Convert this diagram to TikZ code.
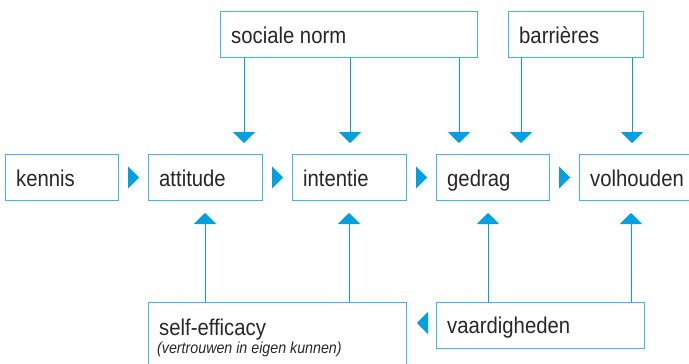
\documentclass[tikz,border=0pt]{standalone}
\usepackage{fontspec}
\setmainfont{Liberation Sans}[FakeStretch=0.89]
\usetikzlibrary{arrows.meta,calc}
\definecolor{arrc}{RGB}{0,160,225}
\definecolor{boxc}{RGB}{60,182,236}
\definecolor{txtc}{RGB}{40,38,38}
\begin{document}
\begin{tikzpicture}[x=1pt,y=-1pt,
  box/.style={draw=boxc,line width=1pt,rectangle,inner sep=0pt,anchor=north west},
  lbl/.style={anchor=base west,inner sep=0pt,text=txtc,font=\fontsize{22.8}{26}\selectfont},
  sub/.style={anchor=base west,inner sep=0pt,text=txtc,font=\fontsize{16}{19}\selectfont\itshape},
  arr/.style={draw=arrc,line width=1pt,-{Triangle[length=11pt,width=22pt]}},
  tip/.style={draw=arrc,line width=1pt,-{Triangle[length=11pt,width=22pt]},shorten <=10pt,shorten >=9pt}]
\useasboundingbox (0,0) rectangle (689,364);
% boxes
\node[box,minimum width=257pt,minimum height=46pt] (social) at (220,11) {};
\node[box,minimum width=135pt,minimum height=46pt] (barr) at (508,11) {};
\node[box,minimum width=113pt,minimum height=46pt] (kennis) at (5,154) {};
\node[box,minimum width=114pt,minimum height=46pt] (attitude) at (148,154) {};
\node[box,minimum width=114pt,minimum height=46pt] (intentie) at (292,154) {};
\node[box,minimum width=113pt,minimum height=46pt] (gedrag) at (436,154) {};
\node[box,minimum width=112pt,minimum height=46pt] (volhouden) at (579,154) {};
\node[box,minimum width=258pt,minimum height=80pt] (selfeff) at (148,301.5) {};
\node[box,minimum width=208pt,minimum height=46pt] (vaard) at (436,301.5) {};
% texts
\node[lbl] (t-social) at ($(social.north west)+(11,32)$) {sociale norm};
\node[lbl] (t-barr) at ($(barr.north west)+(11,32)$) {barrières};
\node[lbl] (t-kennis) at ($(kennis.north west)+(11,32)$) {kennis};
\node[lbl] (t-attitude) at ($(attitude.north west)+(11,32)$) {attitude};
\node[lbl] (t-intentie) at ($(intentie.north west)+(11,32)$) {intentie};
\node[lbl] (t-gedrag) at ($(gedrag.north west)+(11,32)$) {gedrag};
\node[lbl] (t-volhouden) at ($(volhouden.north west)+(11,32)$) {volhouden};
\node[lbl] (t-selfeff) at ($(selfeff.north west)+(11,33.5)$) {self-efficacy};
\node[sub] (t-sub) at ($(selfeff.north west)+(9,51.5)$) {(vertrouwen in eigen kunnen)};
\node[lbl] (t-vaard) at ($(vaard.north west)+(11,31.5)$) {vaardigheden};
% horizontal arrowheads
\draw[tip] (kennis.east) -- (attitude.west);
\draw[tip] (attitude.east) -- (intentie.west);
\draw[tip] (intentie.east) -- (gedrag.west);
\draw[tip] (gedrag.east) -- (volhouden.west);
\draw[tip,shorten <=9pt,shorten >=10pt] ([yshift=2pt]vaard.west) -- ([yshift=2pt]vaard.west -| selfeff.east);
% down arrows
\coordinate (x1) at (244,0);
\coordinate (x2) at (350,0);
\coordinate (x3) at (459,0);
\coordinate (x4) at (521,0);
\coordinate (x5) at (632,0);
\draw[arr,shorten >=11pt] (social.south -| x1) -- (attitude.north -| x1);
\draw[arr,shorten >=11pt] (social.south -| x2) -- (intentie.north -| x2);
\draw[arr,shorten >=11pt] (social.south -| x3) -- (gedrag.north -| x3);
\draw[arr,shorten >=11pt] (barr.south -| x4) -- (gedrag.north -| x4);
\draw[arr,shorten >=11pt] (barr.south -| x5) -- (volhouden.north -| x5);
% up arrows
\coordinate (u1) at (205,0);
\coordinate (u2) at (349,0);
\coordinate (u3) at (488,0);
\coordinate (u4) at (631,0);
\draw[arr,shorten >=12pt] (selfeff.north -| u1) -- (attitude.south -| u1);
\draw[arr,shorten >=12pt] (selfeff.north -| u2) -- (intentie.south -| u2);
\draw[arr,shorten >=12pt] (vaard.north -| u3) -- (gedrag.south -| u3);
\draw[arr,shorten >=12pt] (vaard.north -| u4) -- (volhouden.south -| u4);
\end{tikzpicture}
\end{document}
